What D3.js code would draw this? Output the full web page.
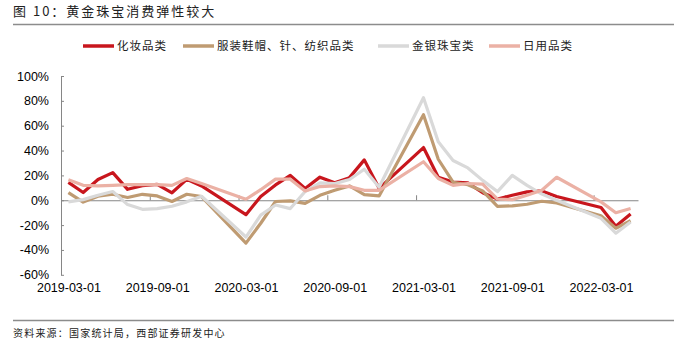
<!DOCTYPE html>
<html>
<head>
<meta charset="utf-8">
<script src="https://cdn.jsdelivr.net/npm/d3@7"></script>
<style>
  body { margin: 0; background: #fff; }
  svg { display: block; }
</style>
</head>
<body>
<svg></svg>
<script>
// months shown (NBS skips Jan/Feb)
const dates = [
  "2019-03-01", "2019-04-01", "2019-05-01", "2019-06-01", "2019-07-01", "2019-08-01", "2019-09-01", "2019-10-01", "2019-11-01", "2019-12-01",
  "2020-03-01", "2020-04-01", "2020-05-01", "2020-06-01", "2020-07-01", "2020-08-01", "2020-09-01", "2020-10-01", "2020-11-01", "2020-12-01",
  "2021-03-01", "2021-04-01", "2021-05-01", "2021-06-01", "2021-07-01", "2021-08-01", "2021-09-01", "2021-10-01", "2021-11-01", "2021-12-01",
  "2022-03-01", "2022-04-01", "2022-05-01"
];

const cosmetics = [
  14.4, 6.2, 16.7, 22.2, 8.8, 11.8, 12.8, 6.0, 16.8, 11.5,
  -11.6, 3.0, 12.3, 20.0, 9.5, 18.6, 14.0, 18.2, 32.5, 9.6,
  42.4, 18.5, 14.6, 14.0, 6.0, 1.0, 4.0, 6.7, 7.5, 3.0,
  -5.8, -21.0, -11.0
];
const clothing = [
  6.2, -1.5, 3.2, 4.8, 2.2, 4.8, 3.5, -1.0, 4.8, 3.0,
  -34.5, -18.5, -1.0, -0.5, -2.5, 4.0, 8.0, 11.5, 4.6, 3.5,
  68.8, 33.0, 14.5, 12.5, 7.5, -5.0, -4.5, -3.2, -0.8, -2.2,
  -12.5, -22.5, -16.5
];
const jewelry = [
  -1.3, 0.5, 4.0, 7.0, -3.5, -7.3, -6.8, -4.8, -1.3, 3.2,
  -29.6, -12.0, -3.8, -6.7, 7.0, 14.0, 13.4, 16.7, 25.0, 10.5,
  82.5, 47.0, 32.0, 26.0, 16.0, 7.0, 20.0, 12.0, 5.0, 0.0,
  -14.5, -26.5, -17.5
];
const dailyUse = [
  16.5, 12.0, 11.5, 12.0, 12.5, 12.5, 12.5, 12.0, 17.5, 13.5,
  0.8, 8.5, 17.0, 17.0, 7.5, 11.0, 11.5, 11.0, 8.0, 8.0,
  31.0, 17.5, 12.0, 13.5, 13.0, 1.0, 0.5, 4.0, 8.0, 18.5,
  -1.3, -10.0, -6.7
];

const seriesNames = ["化妆品类", "服装鞋帽、针、纺织品类", "金银珠宝类", "日用品类"];
const seriesColors = ["#c8161d", "#bf9b72", "#d9d9d9", "#ebb1a5"];
const seriesValues = [cosmetics, clothing, jewelry, dailyUse];

const xTickLabels = ["2019-03-01", "2019-09-01", "2020-03-01", "2020-09-01", "2021-03-01", "2021-09-01", "2022-03-01"];
const yTicks = [-60, -40, -20, 0, 20, 40, 60, 80, 100];

const width = 674;
const height = 354;
const svg = d3.select("svg").attr("width", width).attr("height", height);

// month slot since 2019-03 (points sit in the middle of the slot)
const monthIndex = (s) => {
  const [y, m] = s.split("-").map(Number);
  return (y - 2019) * 12 + (m - 3);
};

const xScale = d3.scaleLinear().domain([0, 39]).range([61, 638]);
const yScale = d3.scaleLinear().domain([-60, 100]).range([274.8, 76]);

// title + rules
svg.append("text")
  .attr("x", 13).attr("y", 16)
  .attr("font-family", "Noto Sans CJK SC")
  .attr("font-size", 13)
  .attr("letter-spacing", 2)
  .attr("fill", "#222")
  .text("图 10：黄金珠宝消费弹性较大");

svg.append("line")
  .attr("x1", 13).attr("x2", 674).attr("y1", 24.5).attr("y2", 24.5)
  .attr("stroke", "#8c8c8c").attr("stroke-width", 1.5);

svg.append("line")
  .attr("x1", 13).attr("x2", 674).attr("y1", 320.5).attr("y2", 320.5)
  .attr("stroke", "#8c8c8c").attr("stroke-width", 1.5);

svg.append("text")
  .attr("x", 13).attr("y", 337)
  .attr("font-family", "Noto Sans CJK SC")
  .attr("font-size", 10)
  .attr("letter-spacing", 1.2)
  .attr("fill", "#222")
  .text("资料来源：国家统计局，西部证券研发中心");

// legend
const legendX = [83, 183, 378, 489];
const legend = svg.append("g").attr("font-family", "Noto Sans CJK SC").attr("font-size", 11.5);
seriesNames.forEach((name, i) => {
  legend.append("line")
    .attr("x1", legendX[i]).attr("x2", legendX[i] + 31)
    .attr("y1", 46).attr("y2", 46)
    .attr("stroke", seriesColors[i]).attr("stroke-width", 3.5);
  legend.append("text")
    .attr("x", legendX[i] + 34).attr("y", 50)
    .attr("letter-spacing", 1)
    .attr("fill", "#222")
    .text(name);
});

// y axis
const yAxis = d3.axisLeft(yScale)
  .tickValues(yTicks)
  .tickSizeInner(-3)
  .tickSizeOuter(0)
  .tickPadding(12)
  .tickFormat((d) => d + "%");

const gy = svg.append("g").attr("transform", "translate(61,0)").call(yAxis);
gy.selectAll("path, line").attr("stroke", "#868686");
gy.selectAll("text")
  .attr("font-family", "Liberation Sans, Arial")
  .attr("font-size", 12.5)
  .attr("fill", "#000");

// x axis on the zero line, ticks pointing up
const tickIdx = xTickLabels.map(monthIndex);
const xAxis = d3.axisBottom(xScale)
  .tickValues(tickIdx)
  .tickSizeInner(-5)
  .tickSizeOuter(0)
  .tickFormat("");
const gx = svg.append("g").attr("transform", "translate(0," + yScale(0) + ")").call(xAxis);
gx.selectAll("path, line").attr("stroke", "#868686");

// x labels at the bottom, centred on the month slot
const xLabelAxis = d3.axisBottom(xScale)
  .tickValues(tickIdx.map((d) => d + 0.5))
  .tickSize(0)
  .tickPadding(0)
  .tickFormat((d, i) => xTickLabels[i]);
const gxl = svg.append("g").attr("transform", "translate(0,283)").call(xLabelAxis);
gxl.select(".domain").remove();
gxl.selectAll("text")
  .attr("font-family", "Liberation Sans, Arial")
  .attr("font-size", 12.5)
  .attr("fill", "#000");

// lines
const line = d3.line()
  .x((d) => xScale(monthIndex(d.date) + 0.5))
  .y((d) => yScale(d.value));

seriesValues.forEach((vals, i) => {
  const pts = dates.map((date, j) => ({ date: date, value: vals[j] }));
  svg.append("path")
    .datum(pts)
    .attr("fill", "none")
    .attr("stroke", seriesColors[i])
    .attr("stroke-width", 3.2)
    .attr("stroke-linejoin", "round")
    .attr("d", line);
});
</script>
</body>
</html>
